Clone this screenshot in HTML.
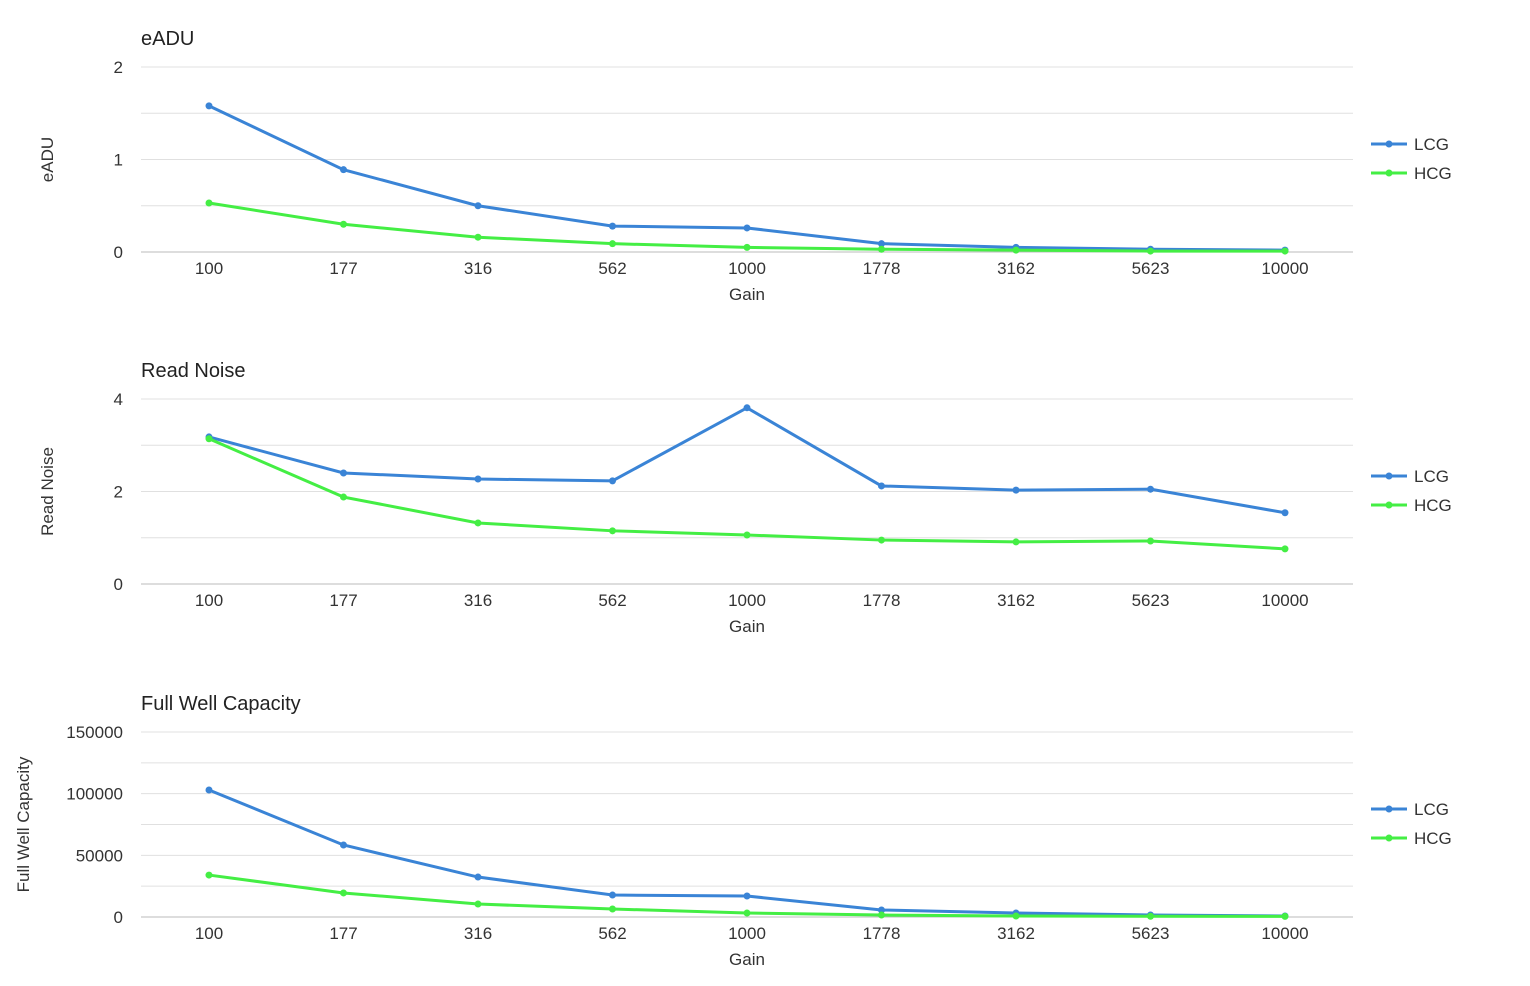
<!DOCTYPE html>
<html><head><meta charset="utf-8"><style>
body{margin:0;background:#fff;font-family:"Liberation Sans",Arial,sans-serif;}
svg text{font-family:"Liberation Sans",Arial,sans-serif;}
</style></head><body>
<svg id="s" width="1530" height="981" xmlns="http://www.w3.org/2000/svg"></svg>
<script>
const categories=["100","177","316","562","1000","1778","3162","5623","10000"];
const eaduLCG=[1.58,0.89,0.50,0.28,0.26,0.09,0.05,0.03,0.02];
const eaduHCG=[0.53,0.30,0.16,0.09,0.05,0.03,0.02,0.01,0.01];
const rnLCG=[3.18,2.40,2.27,2.23,3.81,2.12,2.03,2.05,1.54];
const rnHCG=[3.14,1.88,1.32,1.15,1.06,0.95,0.91,0.93,0.76];
const fwLCG=[103000,58400,32400,17800,17000,5700,3200,1600,800];
const fwHCG=[34000,19500,10500,6500,3200,1600,800,600,500];
const eaduTicks=[0,1,2];
const rnTicks=[0,2,4];
const fwTicks=[0,50000,100000,150000];
const NS="http://www.w3.org/2000/svg";
const svg=document.getElementById('s');
function mk(t,a,txt,parent){const e=document.createElementNS(NS,t);for(const k in a)e.setAttribute(k,a[k]);if(txt!==undefined)e.textContent=txt;(parent||svg).appendChild(e);return e;}
function chart(name,title,yTitle,ytX,top,bottom,max,ticks,minorStep,lcg,hcg){
  const g=mk('g',{});
  
  
  const x0=141,x1=1353;
  const xs=i=>209+i*(1285-209)/(categories.length-1);
  const ys=v=>bottom-(v/max)*(bottom-top);
  for(let v=0;v<=max+1e-9;v+=minorStep){
    const l=mk('line',{x1:x0,x2:x1,y1:ys(v),y2:ys(v),stroke:v===0?'#bbb':'#e0e0e0','stroke-width':1},undefined,g);
    
    
  }
  ticks.forEach(v=>{const t=mk('text',{x:123,y:ys(v)+6,'text-anchor':'end','font-size':17,fill:'#333'},String(v),g);
    
    });
  categories.forEach((c,i)=>{const t=mk('text',{x:xs(i),y:bottom+22,'text-anchor':'middle','font-size':17,fill:'#333'},c,g);
    
    });
  const tt=mk('text',{x:141,y:top-22,'font-size':20,fill:'#222'},title,g);
  
  
  const xt=mk('text',{x:747,y:bottom+48,'text-anchor':'middle','font-size':17,fill:'#333'},'Gain',g);
  
  
  const cy=(top+bottom)/2;
  const yt=mk('text',{x:ytX,y:cy,'text-anchor':'middle','font-size':17,fill:'#333',transform:`rotate(-90 ${ytX} ${cy})`},yTitle,g);
  
  
  [[lcg,'#3a84d6','LCG'],[hcg,'#44ee44','HCG']].forEach(([d,col,lab],k)=>{
    const p=mk('polyline',{points:d.map((v,i)=>xs(i)+','+ys(v)).join(' '),fill:'none',stroke:col,'stroke-width':3},undefined,g);
    
    
    d.forEach((v,i)=>{const c=mk('circle',{cx:xs(i),cy:ys(v),r:3.5,fill:col},undefined,g);
      
      });
    const ly=top+77+k*29;
    const lg=mk('g',{},undefined,g);
    
    
    mk('line',{x1:1371,x2:1407,y1:ly,y2:ly,stroke:col,'stroke-width':3},undefined,lg);
    mk('circle',{cx:1389,cy:ly,r:3.5,fill:col},undefined,lg);
    mk('text',{x:1414,y:ly+6,'font-size':17,fill:'#333'},lab,lg);
  });
}
chart('eadu','eADU','eADU',53,67,252,2,eaduTicks,0.5,eaduLCG,eaduHCG);
chart('read-noise','Read Noise','Read Noise',53,399,584,4,rnTicks,1,rnLCG,rnHCG);
chart('full-well','Full Well Capacity','Full Well Capacity',29,732,917,150000,fwTicks,25000,fwLCG,fwHCG);
</script>
</body></html>
